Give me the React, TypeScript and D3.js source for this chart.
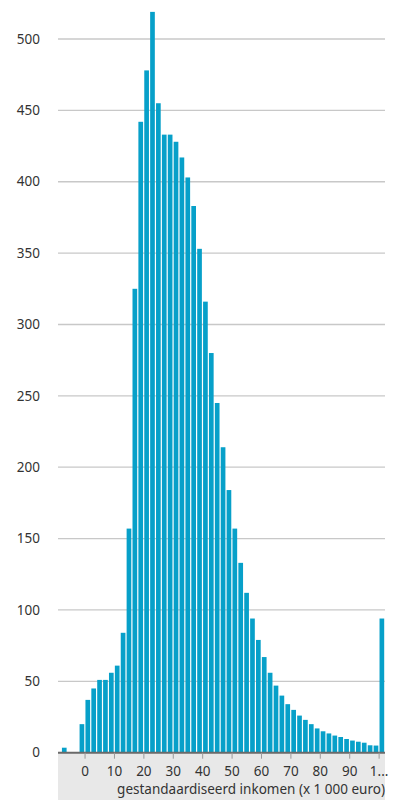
import * as d3 from "d3"

// bins of 2 000 euro, last one is "100 and more"
const binStarts = [
  -8, -6, -4, -2, 0, 2, 4, 6, 8, 10, 12, 14, 16, 18, 20, 22, 24, 26, 28, 30, 32, 34, 36, 38, 40, 42, 44, 46, 48,
  50, 52, 54, 56, 58, 60, 62, 64, 66, 68, 70, 72, 74, 76, 78, 80, 82, 84, 86, 88, 90, 92, 94, 96, 98, 100,
]
const counts = [
  3.5, 0, 0, 20, 37, 45, 51, 51, 56, 61, 84, 157, 325, 442, 478, 519, 455, 433, 433, 428, 417, 403, 383, 353, 316,
  280, 245, 214, 184, 157, 133, 112, 94, 79, 67, 56, 47, 40, 34, 30, 26, 23, 20, 17, 15, 13.5, 12, 11, 9.6, 8.5,
  7.7, 7, 5.2, 5, 94,
]
const xTicks = [0, 10, 20, 30, 40, 50, 60, 70, 80, 90, 100]
const xTickLabels = ["0", "10", "20", "30", "40", "50", "60", "70", "80", "90", "1..."]
const yTicks = [0, 50, 100, 150, 200, 250, 300, 350, 400, 450, 500]
const xTitle = "gestandaardiseerd inkomen (x 1 000 euro)"

const W = 395
const H = 800
const left = 58
const right = 385
const baseY = 752.7
const font = "'Noto Sans', 'Open Sans', sans-serif"

export default function App() {
  const x = d3.scaleLinear().domain([-9.2, 102]).range([left, right])
  const y = d3.scaleLinear().domain([0, 500]).range([baseY, 39])
  const bars = binStarts.map((b, i) => ({ start: b, value: counts[i] }))

  return (
    <svg width={W} height={H} style={{ position: "absolute", left: 0, top: 0 }} fontFamily={font}>
      <rect x={0} y={0} width={W} height={H} fill="#fff" />

      {/* grid lines + y labels */}
      {yTicks.map((t) => (
        <g key={t}>
          {t > 0 && <line x1={left} x2={right} y1={y(t)} y2={y(t)} stroke="#c8c8c8" strokeWidth={1.3} />}
          <text x={40} y={y(t)} dy="0.35em" textAnchor="end" fontSize={13.5} fill="#333">
            {t}
          </text>
        </g>
      ))}

      {/* x axis band */}
      <rect x={left} y={baseY} width={right - left} height={H - baseY} fill="#e8e8e8" />

      {/* bars */}
      {bars.map((d) => (
        <rect
          key={d.start}
          x={x(d.start) + 0.4}
          y={y(d.value)}
          width={x(d.start + 2) - x(d.start) - 1.2}
          height={baseY - y(d.value)}
          fill="#07a0c9"
        />
      ))}

      <line x1={left} x2={right} y1={baseY} y2={baseY} stroke="#6a6a6a" strokeWidth={2} />

      {xTicks.map((t, i) => (
        <g key={t}>
          <line x1={x(t)} x2={x(t)} y1={baseY} y2={baseY + 6} stroke="#9a9a9a" strokeWidth={1} />
          <text x={x(t)} y={771} dy="0.35em" textAnchor="middle" fontSize={13.5} fill="#333">
            {xTickLabels[i]}
          </text>
        </g>
      ))}

      <text x={right} y={789} dy="0.35em" textAnchor="end" fontSize={13.5} fill="#333">
        {xTitle}
      </text>
    </svg>
  )
}
